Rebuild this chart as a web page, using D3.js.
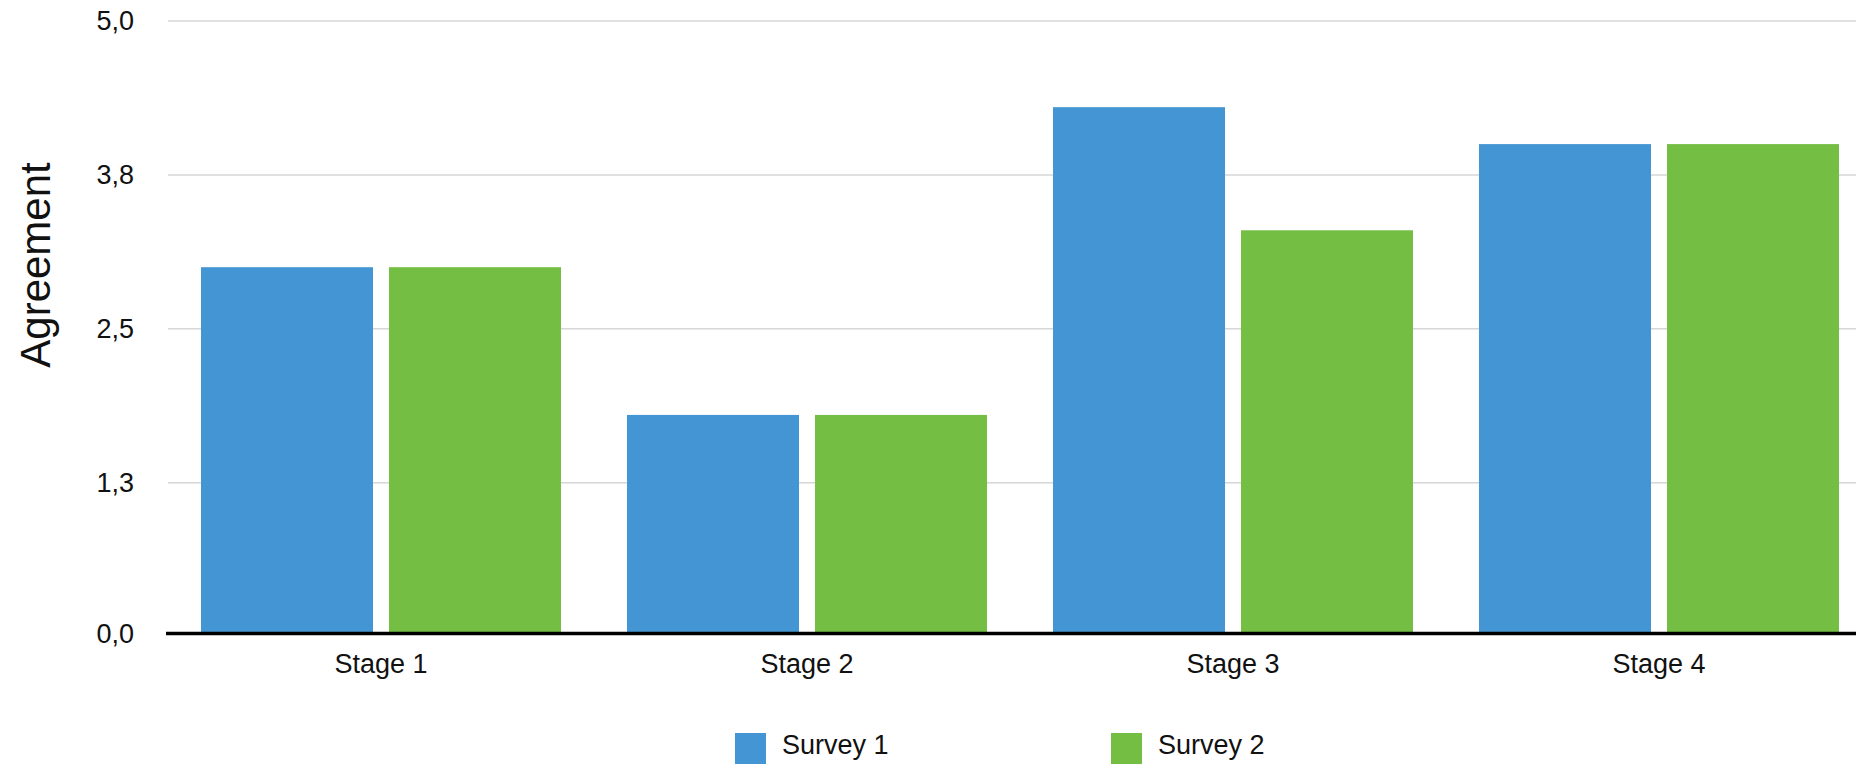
<!DOCTYPE html>
<html>
<head>
<meta charset="utf-8">
<script src="https://cdn.jsdelivr.net/npm/d3@7"></script>
<style>
  html, body { margin: 0; padding: 0; background: #ffffff; }
  svg { display: block; font-family: "Liberation Sans", Arial, Helvetica, sans-serif; }
</style>
</head>
<body>
<svg id="chart" width="1856" height="769"></svg>
<script>
const categories = ["Stage 1", "Stage 2", "Stage 3", "Stage 4"];
const seriesNames = ["Survey 1", "Survey 2"];
const survey1 = [3.0, 1.8, 4.3, 4.0];
const survey2 = [3.0, 1.8, 3.3, 4.0];
const yTicks = [0, 1.25, 2.5, 3.75, 5];
const yTickLabels = ["0,0", "1,3", "2,5", "3,8", "5,0"];
const yTitle = "Agreement";
const colors = ["#4396d3", "#74be43"];

const seriesValues = [survey1, survey2];
const svg = d3.select("#chart");

const x = d3.scaleBand().domain(categories).range([168, 1872])
  .paddingInner(0.155).paddingOuter(0.0775);
const xInner = d3.scaleBand().domain(seriesNames).range([0, x.bandwidth()])
  .paddingInner(0.0851);
const y = d3.scaleLinear().domain([0, 5]).range([636.5, 21]);

// gridlines
svg.append("g").selectAll("line").data(yTicks.filter(t => t > 0)).join("line")
  .attr("x1", x.range()[0]).attr("x2", 1856)
  .attr("y1", d => y(d)).attr("y2", d => y(d))
  .attr("stroke", "#d6d6d6").attr("stroke-width", 1.5);

// y tick labels
svg.append("g").selectAll("text").data(yTicks).join("text")
  .attr("x", 134).attr("y", d => y(d) + (d === 0 ? -1 : 2))
  .attr("text-anchor", "end").attr("dominant-baseline", "middle")
  .attr("font-size", 27).attr("fill", "#111")
  .text((d, i) => yTickLabels[i]);

// bars
const axisY = y(0) - 3;
const groups = svg.append("g").selectAll("g").data(categories).join("g")
  .attr("transform", d => `translate(${x(d)},0)`);
groups.selectAll("rect")
  .data((c, ci) => seriesNames.map((s, si) => ({ s, si, v: seriesValues[si][ci] })))
  .join("rect")
  .attr("x", d => xInner(d.s))
  .attr("width", xInner.bandwidth())
  .attr("y", d => y(d.v))
  .attr("height", d => axisY - y(d.v))
  .attr("fill", d => colors[d.si]);

// x axis line
svg.append("line")
  .attr("x1", x.range()[0] - 2).attr("x2", 1856)
  .attr("y1", axisY).attr("y2", axisY)
  .attr("stroke", "#000").attr("stroke-width", 3.5);

// category labels
svg.append("g").selectAll("text").data(categories).join("text")
  .attr("x", d => x(d) + x.bandwidth() / 2).attr("y", 673)
  .attr("text-anchor", "middle").attr("font-size", 27).attr("fill", "#111")
  .text(d => d);

// y title
svg.append("text")
  .attr("transform", "translate(50,265) rotate(-90)")
  .attr("text-anchor", "middle").attr("font-size", 42).attr("fill", "#111")
  .text(yTitle);

// legend
const legendX = d3.scalePoint().domain(seriesNames).range([735, 1111]);
const leg = svg.append("g").selectAll("g").data(seriesNames).join("g")
  .attr("transform", d => `translate(${legendX(d)},733)`);
leg.append("rect").attr("width", 31).attr("height", 31)
  .attr("fill", (d, i) => colors[i]);
leg.append("text").attr("x", 47).attr("y", 21).attr("font-size", 27)
  .attr("fill", "#111").text(d => d);
</script>
</body>
</html>
